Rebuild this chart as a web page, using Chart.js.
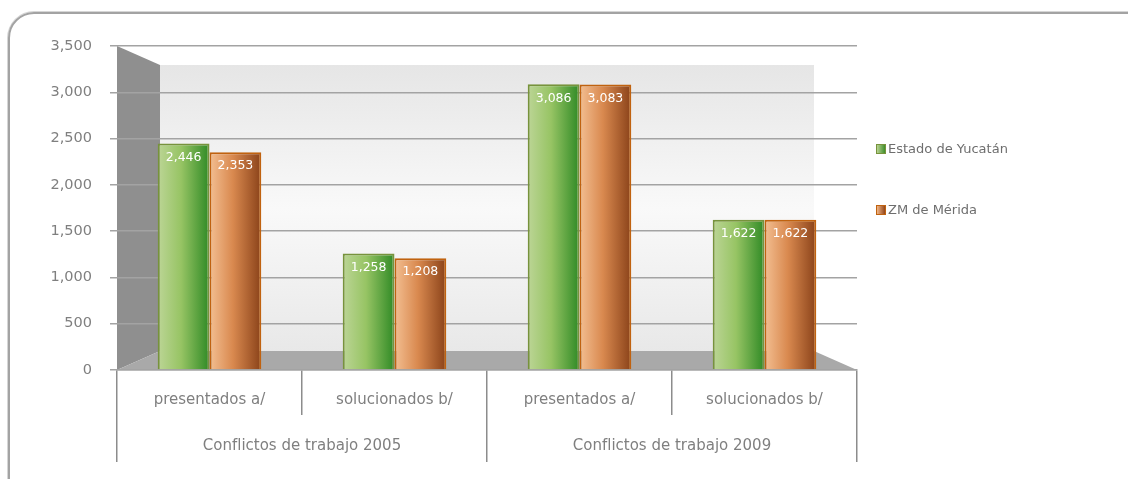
<!DOCTYPE html>
<html lang="es">
<head>
    <meta charset="UTF-8">
    <title>Conflictos de trabajo</title>
    <script src="https://cdnjs.cloudflare.com/ajax/libs/Chart.js/4.4.1/chart.umd.min.js"></script>
    <style>
        body {
            margin: 0;
            background: #ffffff;
            font-family: "DejaVu Sans", sans-serif;
        }
        .wrap {
            position: relative;
            width: 1128px;
            height: 479px;
            overflow: hidden;
        }
        .frame {
            position: absolute;
            left: 8px;
            top: 12px;
            width: 1140px;
            height: 490px;
            border: 2px solid #a3a3a3;
            border-radius: 26px;
            box-shadow: 0 0 0 1px #d6d6d6;
        }
        canvas {
            position: absolute;
            left: 0;
            top: 0;
        }
        .legend {
            position: absolute;
            left: 876px;
            font-size: 13px;
            color: #6e6e6e;
        }
        .legend div {
            position: absolute;
            white-space: nowrap;
            line-height: 16px;
        }
        .legend span {
            display: inline-block;
            width: 8px;
            height: 8px;
            margin-right: 2px;
            vertical-align: -1px;
        }
        .sw-green { background: linear-gradient(90deg, #b8d190, #3f8f2c); border: 1px solid #77933c; }
        .sw-orange { background: linear-gradient(90deg, #f0b585, #93461a); border: 1px solid #c0620f; }
    </style>
</head>
<body>
    <div class="wrap">
        <div class="frame"></div>
        <canvas id="chart" width="1128" height="479"></canvas>
        <div class="legend">
            <div style="top:141px"><span class="sw-green"></span>Estado de Yucatán</div>
            <div style="top:202px"><span class="sw-orange"></span>ZM de Mérida</div>
        </div>
    </div>

    <script>
        // Data
        const subCategories = ['presentados a/', 'solucionados b/', 'presentados a/', 'solucionados b/'];
        const groups = ['Conflictos de trabajo 2005', 'Conflictos de trabajo 2009'];
        const estadoYucatan = [2446, 1258, 3086, 1622];
        const zmMerida = [2353, 1208, 3083, 1622];
        const yTicks = [0, 500, 1000, 1500, 2000, 2500, 3000, 3500];

        const catPct = 0.56;
        const barPct = 1.0;

        // horizontal gradient across each bar, located from the x scale
        function barGradient(stops, side) {
            return function (context) {
                const chart = context.chart;
                const xs = chart.scales.x;
                if (!xs || !chart.chartArea || context.dataIndex === undefined) return stops[1];
                const center = xs.getPixelForValue(context.dataIndex);
                const w = xs.width / subCategories.length * catPct / 2;
                if (!isFinite(center) || !isFinite(w) || w <= 0) return stops[1];
                const x0 = side === 0 ? center - w : center;
                const g = chart.ctx.createLinearGradient(x0, 0, x0 + w, 0);
                g.addColorStop(0, stops[0]);
                g.addColorStop(0.45, stops[1]);
                g.addColorStop(1, stops[2]);
                return g;
            };
        }

        // faux 3D walls and floor behind the bars
        const wallsPlugin = {
            id: 'walls',
            beforeDraw(chart) {
                const { ctx, chartArea: a } = chart;
                const d = 43, h = 19;
                ctx.save();
                const bg = ctx.createLinearGradient(0, a.top, 0, a.bottom);
                bg.addColorStop(0, '#e3e3e3');
                bg.addColorStop(0.5, '#f9f9f9');
                bg.addColorStop(1, '#e6e6e6');
                ctx.fillStyle = bg;
                ctx.fillRect(a.left + d, a.top + h, a.right - a.left - 2 * d, a.bottom - a.top - 2 * h);
                // left wall
                ctx.fillStyle = '#8f8f8f';
                ctx.beginPath();
                ctx.moveTo(a.left, a.top);
                ctx.lineTo(a.left + d, a.top + h);
                ctx.lineTo(a.left + d, a.bottom - h);
                ctx.lineTo(a.left, a.bottom);
                ctx.closePath();
                ctx.fill();
                // floor
                ctx.fillStyle = '#a9a9a9';
                ctx.beginPath();
                ctx.moveTo(a.left, a.bottom);
                ctx.lineTo(a.left + d, a.bottom - h);
                ctx.lineTo(a.right - d, a.bottom - h);
                ctx.lineTo(a.right, a.bottom);
                ctx.closePath();
                ctx.fill();
                ctx.restore();
            }
        };

        // value labels in white near the top of each bar
        const valueLabels = {
            id: 'valueLabels',
            afterDatasetsDraw(chart) {
                const { ctx } = chart;
                ctx.save();
                ctx.font = '12.5px "DejaVu Sans"';
                ctx.fillStyle = '#ffffff';
                ctx.textAlign = 'center';
                ctx.textBaseline = 'middle';
                chart.data.datasets.forEach((ds, i) => {
                    chart.getDatasetMeta(i).data.forEach((bar, j) => {
                        ctx.fillText(ds.data[j].toLocaleString('en-US'), bar.x, bar.y + 14);
                    });
                });
                ctx.restore();
            }
        };

        const ctx = document.getElementById('chart').getContext('2d');
        new Chart(ctx, {
            type: 'bar',
            data: {
                labels: subCategories,
                datasets: [{
                    label: 'Estado de Yucatán',
                    data: estadoYucatan,
                    backgroundColor: barGradient(['#bcd596', '#97c464', '#2f8a25'], 0),
                    borderColor: '#77933c',
                    borderWidth: 2,
                    categoryPercentage: catPct,
                    barPercentage: barPct
                }, {
                    label: 'ZM de Mérida',
                    data: zmMerida,
                    backgroundColor: barGradient(['#f3bf92', '#d9894f', '#8a4219'], 1),
                    borderColor: '#c0620f',
                    borderWidth: 2,
                    categoryPercentage: catPct,
                    barPercentage: barPct
                }]
            },
            options: {
                responsive: false,
                animation: false,
                layout: { padding: { left: 20, right: 271, top: 46, bottom: 17 } },
                plugins: {
                    legend: { display: false },
                    tooltip: { enabled: false }
                },
                scales: {
                    y: {
                        min: 0,
                        max: 3500,
                        afterBuildTicks: (scale) => { scale.ticks = yTicks.map(v => ({ value: v })); },
                        afterFit: (scale) => { scale.width = 97; },
                        ticks: {
                            color: '#7f7f7f',
                            font: { family: 'DejaVu Sans', size: 14.5 },
                            padding: 18,
                            callback: (v) => Number(v).toLocaleString('en-US')
                        },
                        grid: { color: '#a3a3a3', lineWidth: 1.5, tickLength: 7 },
                        border: { display: false }
                    },
                    x: {
                        offset: true,
                        afterFit: (scale) => { scale.height = 45; },
                        ticks: {
                            color: '#7f7f7f',
                            font: { family: 'DejaVu Sans', size: 15 },
                            padding: -24,
                            maxRotation: 0
                        },
                        grid: { offset: true, drawOnChartArea: false, color: '#8c8c8c', lineWidth: 1.5, tickLength: 45 },
                        border: { display: true, color: '#a3a3a3', width: 1.5 }
                    },
                    x2: {
                        type: 'category',
                        position: 'bottom',
                        labels: groups,
                        offset: true,
                        afterFit: (scale) => { scale.height = 47; },
                        ticks: {
                            color: '#7f7f7f',
                            font: { family: 'DejaVu Sans', size: 15 },
                            padding: -25,
                            maxRotation: 0
                        },
                        grid: { offset: true, drawOnChartArea: false, color: '#8c8c8c', lineWidth: 1.5, tickLength: 47 },
                        border: { display: false }
                    }
                }
            },
            plugins: [wallsPlugin, valueLabels]
        });
    </script>
</body>
</html>
